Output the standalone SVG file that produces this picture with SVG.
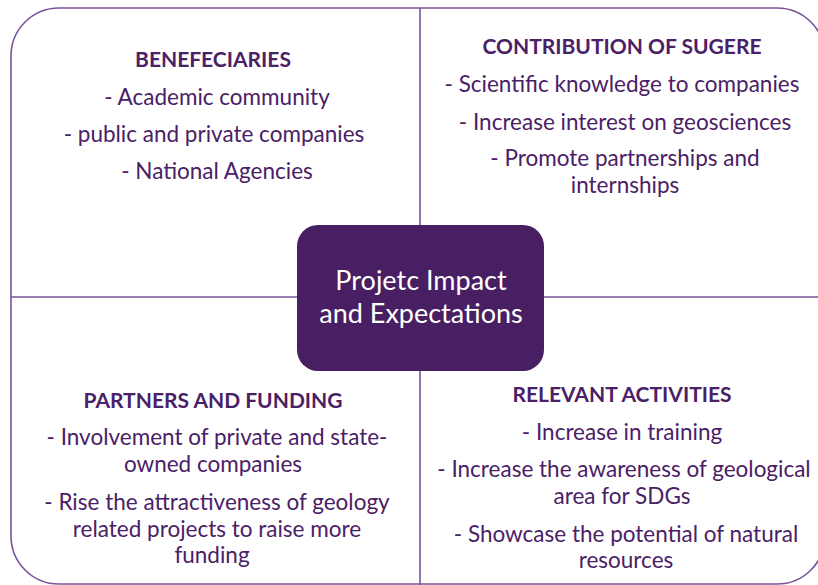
<svg xmlns="http://www.w3.org/2000/svg" width="818" height="585" viewBox="0 0 818 585">
<style>
.q{fill:#fff;stroke:#7a5498;stroke-width:1.6}
.ln{stroke:#7a5498;stroke-width:1.6;fill:none}
.h{font-family:Lato,"Open Sans",sans-serif;font-weight:bold;font-size:21px;fill:#4a2066;text-anchor:middle}
.t{font-family:Lato,"Open Sans",sans-serif;font-size:22.5px;fill:#4a2066;text-anchor:middle}
.c{font-family:Lato,"Open Sans",sans-serif;font-size:27px;fill:#ffffff;text-anchor:middle}
</style>
<rect x="0" y="0" width="818" height="585" fill="#fff"/>
<g id="frame">
<rect class="q" x="11" y="8" width="814" height="576" rx="48" ry="48"/>
</g>
<g id="connectors">
<line class="ln" x1="420" y1="8" x2="420" y2="585"/>
<line class="ln" x1="11" y1="297" x2="818" y2="297"/>
</g>
<g id="beneficiaries">
<text class="h" x="213" y="67">BENEFECIARIES</text>
<text class="t" x="217" y="105">- Academic community</text>
<text class="t" x="214" y="142">- public and private companies</text>
<text class="t" x="217" y="179">- National Agencies</text>
</g>
<g id="contribution">
<text class="h" x="622" y="54">CONTRIBUTION OF SUGERE</text>
<text class="t" x="622" y="92">- Scientific knowledge to companies</text>
<text class="t" x="625" y="130">- Increase interest on geosciences</text>
<text class="t" x="625" y="166">- Promote partnerships and</text>
<text class="t" x="625" y="193">internships</text>
</g>
<g id="partners">
<text class="h" x="213" y="408">PARTNERS AND FUNDING</text>
<text class="t" x="217" y="445">- Involvement of private and state-</text>
<text class="t" x="213" y="472">owned companies</text>
<text class="t" x="217" y="510">- Rise the attractiveness of geology</text>
<text class="t" x="217" y="537">related projects to raise more</text>
<text class="t" x="212" y="563">funding</text>
</g>
<g id="activities">
<text class="h" x="622" y="402">RELEVANT ACTIVITIES</text>
<text class="t" x="622" y="440">- Increase in training</text>
<text class="t" x="624" y="477">- Increase the awareness of geological</text>
<text class="t" x="622" y="504">area for SDGs</text>
<text class="t" x="626" y="542">- Showcase the potential of natural</text>
<text class="t" x="626" y="568">resources</text>
</g>
<g id="center">
<rect x="297" y="225" width="247" height="146" rx="21" ry="21" fill="#481f62"/>
<text class="c" x="421" y="290">Projetc Impact</text>
<text class="c" x="421" y="323">and Expectations</text>
</g>
</svg>
